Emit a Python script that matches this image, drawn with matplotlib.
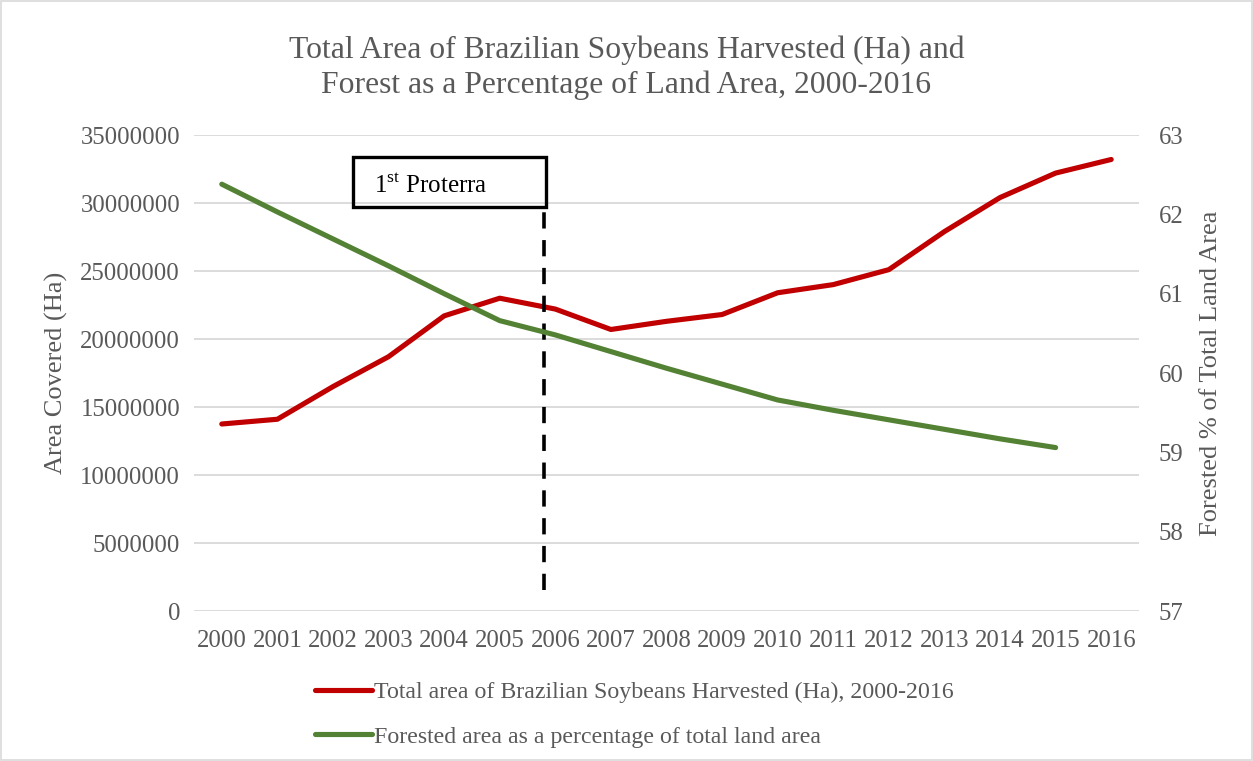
import matplotlib
matplotlib.use("Agg")
import matplotlib.pyplot as plt
from matplotlib.patches import Rectangle

# ─── DONNÉES ────────────────────────────────────────────────────────────────
years = list(range(2000, 2017))
soy_area = [13750000, 14100000, 16500000, 18700000, 21700000, 23000000,
            22200000, 20700000, 21300000, 21800000, 23400000, 24000000,
            25100000, 27900000, 30400000, 32200000, 33200000]
forest_years = list(range(2000, 2016))
forest_pct = [62.38, 62.03, 61.69, 61.35, 61.00, 60.66, 60.48, 60.27,
              60.06, 59.86, 59.66, 59.53, 59.41, 59.29, 59.17, 59.06]

left_ticks = list(range(0, 35000001, 5000000))
right_ticks = list(range(57, 64))
proterra_x = 2005.8
proterra_box = (2002.36, 29700000, 3.47, 3700000)  # x, y, w, h

RED = "#C00000"
GREEN = "#548235"
GREY = "#595959"

plt.rcParams["font.family"] = ["Liberation Serif", "DejaVu Serif"]
plt.rcParams["mathtext.fontset"] = "custom"
plt.rcParams["mathtext.rm"] = "Liberation Serif"

fig = plt.figure(figsize=(12.53, 7.61), dpi=100)
ax = fig.add_axes([194 / 1253, 1 - 611 / 761, (1139 - 194) / 1253, (611 - 135) / 761])
ax2 = ax.twinx()

# ─── LIGNES ────────────────────────────────────────────────────────────────
l1, = ax.plot(years, soy_area, color=RED, lw=3.7, solid_capstyle="round",
              label="Total area of Brazilian Soybeans Harvested (Ha), 2000-2016")
l2, = ax2.plot(forest_years, forest_pct, color=GREEN, lw=3.7, solid_capstyle="round",
               label="Forested area as a percentage of total land area")

ax.plot([proterra_x, proterra_x], [1550000, proterra_box[1]], color="black",
        lw=2.6, dashes=(4.5, 3.2))
ax.add_patch(Rectangle(proterra_box[:2], proterra_box[2], proterra_box[3],
                       fill=False, edgecolor="black", lw=2.4, zorder=5))
ax.text(proterra_box[0] + proterra_box[2] * 0.405, proterra_box[1] + proterra_box[3] * 0.43,
        "1$^{\\mathrm{st}}$ Proterra", ha="center", va="center", fontsize=18,
        color="black", zorder=6)

# ─── AXES ──────────────────────────────────────────────────────────────────
ax.set_xlim(1999.5, 2016.5)
ax.set_ylim(0, 35000000)
ax2.set_ylim(57, 63)
ax.set_xticks(years)
ax.set_xticklabels([str(y) for y in years])
ax.set_yticks(left_ticks)
ax.set_yticklabels([str(v) for v in left_ticks])
ax2.set_yticks(right_ticks)
ax.grid(axis="y", color="#D9D9D9", lw=1.3)
ax.set_axisbelow(True)
for a in (ax, ax2):
    for s in a.spines.values():
        s.set_visible(False)
    a.tick_params(length=0, labelsize=17.8, colors=GREY)
ax.tick_params(axis="y", pad=10)
ax.tick_params(axis="x", pad=14)
ax2.tick_params(axis="y", pad=14)

ax.set_ylabel("Area Covered (Ha)", fontsize=19, color=GREY, labelpad=9)
ax2.set_ylabel("Forested % of Total Land Area", fontsize=19, color=GREY, labelpad=12)

fig.suptitle("Total Area of Brazilian Soybeans Harvested (Ha) and\n"
             "Forest as a Percentage of Land Area, 2000-2016",
             y=0.954, fontsize=22.8, color=GREY, linespacing=1.25)

fig.legend(handles=[l1, l2], loc="upper left", bbox_to_anchor=(293 / 1253, 1 - 660 / 761),
           frameon=False, fontsize=17.2, handlelength=2.4, handletextpad=0.1,
           labelspacing=0.95, labelcolor=GREY)

fig.patches.append(Rectangle((0.001, 0.001), 0.998, 0.998, transform=fig.transFigure,
                             fill=False, edgecolor="#D9D9D9", lw=1.2))

plt.savefig("out.png", dpi=100)
plt.close()
